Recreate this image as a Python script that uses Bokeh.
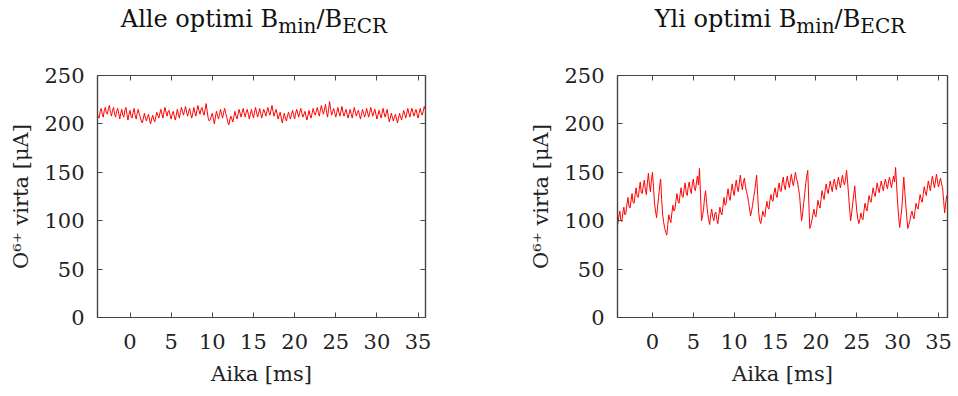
from bokeh.plotting import figure
from bokeh.models import Div, FixedTicker, LinearAxis, Range1d
from bokeh.layouts import row, column
from bokeh.embed import file_html
from bokeh.resources import INLINE

# ---------------- data ----------------
TIME_MS = [
    -4.25, -4.125, -4.0, -3.875, -3.75, -3.625, -3.5, -3.375,
    -3.25, -3.125, -3.0, -2.875, -2.75, -2.625, -2.5, -2.375,
    -2.25, -2.125, -2.0, -1.875, -1.75, -1.625, -1.5, -1.375,
    -1.25, -1.125, -1.0, -0.875, -0.75, -0.625, -0.5, -0.375,
    -0.25, -0.125, 0.0, 0.125, 0.25, 0.375, 0.5, 0.625,
    0.75, 0.875, 1.0, 1.125, 1.25, 1.375, 1.5, 1.625,
    1.75, 1.875, 2.0, 2.125, 2.25, 2.375, 2.5, 2.625,
    2.75, 2.875, 3.0, 3.125, 3.25, 3.375, 3.5, 3.625,
    3.75, 3.875, 4.0, 4.125, 4.25, 4.375, 4.5, 4.625,
    4.75, 4.875, 5.0, 5.125, 5.25, 5.375, 5.5, 5.625,
    5.75, 5.875, 6.0, 6.125, 6.25, 6.375, 6.5, 6.625,
    6.75, 6.875, 7.0, 7.125, 7.25, 7.375, 7.5, 7.625,
    7.75, 7.875, 8.0, 8.125, 8.25, 8.375, 8.5, 8.625,
    8.75, 8.875, 9.0, 9.125, 9.25, 9.375, 9.5, 9.625,
    9.75, 9.875, 10.0, 10.125, 10.25, 10.375, 10.5, 10.625,
    10.75, 10.875, 11.0, 11.125, 11.25, 11.375, 11.5, 11.625,
    11.75, 11.875, 12.0, 12.125, 12.25, 12.375, 12.5, 12.625,
    12.75, 12.875, 13.0, 13.125, 13.25, 13.375, 13.5, 13.625,
    13.75, 13.875, 14.0, 14.125, 14.25, 14.375, 14.5, 14.625,
    14.75, 14.875, 15.0, 15.125, 15.25, 15.375, 15.5, 15.625,
    15.75, 15.875, 16.0, 16.125, 16.25, 16.375, 16.5, 16.625,
    16.75, 16.875, 17.0, 17.125, 17.25, 17.375, 17.5, 17.625,
    17.75, 17.875, 18.0, 18.125, 18.25, 18.375, 18.5, 18.625,
    18.75, 18.875, 19.0, 19.125, 19.25, 19.375, 19.5, 19.625,
    19.75, 19.875, 20.0, 20.125, 20.25, 20.375, 20.5, 20.625,
    20.75, 20.875, 21.0, 21.125, 21.25, 21.375, 21.5, 21.625,
    21.75, 21.875, 22.0, 22.125, 22.25, 22.375, 22.5, 22.625,
    22.75, 22.875, 23.0, 23.125, 23.25, 23.375, 23.5, 23.625,
    23.75, 23.875, 24.0, 24.125, 24.25, 24.375, 24.5, 24.625,
    24.75, 24.875, 25.0, 25.125, 25.25, 25.375, 25.5, 25.625,
    25.75, 25.875, 26.0, 26.125, 26.25, 26.375, 26.5, 26.625,
    26.75, 26.875, 27.0, 27.125, 27.25, 27.375, 27.5, 27.625,
    27.75, 27.875, 28.0, 28.125, 28.25, 28.375, 28.5, 28.625,
    28.75, 28.875, 29.0, 29.125, 29.25, 29.375, 29.5, 29.625,
    29.75, 29.875, 30.0, 30.125, 30.25, 30.375, 30.5, 30.625,
    30.75, 30.875, 31.0, 31.125, 31.25, 31.375, 31.5, 31.625,
    31.75, 31.875, 32.0, 32.125, 32.25, 32.375, 32.5, 32.625,
    32.75, 32.875, 33.0, 33.125, 33.25, 33.375, 33.5, 33.625,
    33.75, 33.875, 34.0, 34.125, 34.25, 34.375, 34.5, 34.625,
    34.75, 34.875, 35.0, 35.125, 35.25, 35.375, 35.5, 35.625,
    35.75, 35.875, 36.0,
]

# O6+ current [uA], below optimum Bmin/BECR
CURRENT_BELOW = [
    203, 209, 212, 207, 206, 213, 216, 210,
    207, 214, 217, 211, 210, 216, 219, 212,
    208, 214, 217, 210, 207, 213, 216, 211,
    205, 211, 215, 209, 207, 214, 217, 210,
    204, 210, 214, 208, 206, 212, 216, 209,
    205, 211, 215, 210, 207, 203, 201, 206,
    211, 206, 203, 207, 210, 204, 200, 205,
    209, 205, 202, 207, 212, 209, 206, 211,
    215, 210, 206, 212, 217, 212, 208, 213,
    214, 209, 205, 210, 213, 208, 204, 209,
    215, 210, 206, 212, 217, 213, 209, 214,
    218, 212, 208, 213, 216, 210, 206, 211,
    217, 212, 208, 214, 219, 214, 210, 215,
    217, 212, 209, 215, 221, 213, 206, 203,
    204, 208, 211, 205, 200, 207, 213, 209,
    205, 210, 215, 210, 206, 212, 216, 211,
    207, 202, 199, 204, 208, 205, 202, 208,
    213, 208, 205, 210, 215, 211, 207, 212,
    216, 211, 207, 212, 215, 210, 205, 210,
    215, 210, 206, 212, 217, 212, 207, 211,
    216, 211, 206, 211, 215, 212, 208, 213,
    217, 212, 209, 214, 219, 213, 208, 212,
    215, 210, 205, 209, 212, 206, 201, 206,
    211, 206, 203, 208, 212, 208, 205, 210,
    214, 209, 205, 211, 215, 211, 207, 212,
    216, 211, 207, 210, 213, 208, 204, 209,
    214, 209, 206, 211, 216, 212, 209, 213,
    217, 212, 208, 214, 219, 214, 210, 215,
    220, 212, 207, 215, 223, 215, 209, 213,
    216, 211, 207, 212, 217, 212, 208, 213,
    218, 212, 208, 212, 215, 210, 206, 211,
    215, 210, 206, 212, 217, 212, 208, 212,
    214, 209, 205, 210, 215, 211, 207, 211,
    216, 211, 207, 212, 217, 212, 208, 212,
    215, 210, 205, 209, 214, 210, 206, 211,
    216, 211, 207, 211, 215, 208, 202, 206,
    211, 207, 203, 207, 210, 205, 201, 206,
    211, 207, 204, 209, 214, 210, 206, 211,
    216, 211, 207, 212, 216, 212, 208, 212,
    215, 210, 206, 211, 216, 212, 209, 213,
    218, 215, 212,
]

# O6+ current [uA], above optimum Bmin/BECR
CURRENT_ABOVE = [
    96, 104, 110, 101, 99, 108, 114, 106,
    108, 117, 124, 115, 113, 121, 128, 119,
    118, 127, 134, 125, 124, 132, 140, 129,
    128, 136, 142, 133, 127, 139, 149, 137,
    130, 143, 150, 135, 118, 110, 103, 115,
    124, 136, 143, 122, 106, 98, 92, 88,
    85, 96, 106, 101, 98, 108, 116, 110,
    112, 121, 128, 120, 118, 127, 134, 125,
    124, 133, 139, 129, 126, 135, 140, 132,
    128, 138, 143, 134, 131, 139, 146, 137,
    154, 128, 100, 105, 112, 124, 131, 118,
    108, 101, 96, 106, 112, 104, 100, 107,
    109, 101, 97, 106, 114, 108, 106, 115,
    124, 116, 117, 126, 133, 125, 121, 130,
    138, 131, 126, 135, 142, 134, 130, 139,
    147, 138, 132, 140, 144, 135, 130, 126,
    120, 112, 105, 110, 116, 124, 130, 139,
    147, 126, 108, 100, 97, 103, 110, 106,
    104, 113, 120, 114, 112, 121, 127, 121,
    120, 129, 134, 127, 124, 133, 139, 131,
    130, 139, 145, 136, 132, 141, 146, 139,
    134, 142, 148, 140, 136, 144, 150, 143,
    140, 133, 126, 112, 100, 108, 118, 128,
    138, 146, 152, 120, 92, 95, 100, 106,
    112, 106, 104, 113, 121, 116, 113, 122,
    131, 126, 122, 131, 138, 132, 128, 135,
    141, 135, 130, 138, 143, 137, 132, 139,
    145, 139, 134, 141, 147, 140, 137, 143,
    152, 140, 126, 112, 100, 108, 118, 127,
    136, 122, 110, 102, 97, 101, 108, 103,
    101, 110, 118, 113, 110, 118, 126, 121,
    119, 127, 134, 128, 125, 132, 139, 133,
    129, 136, 141, 135, 131, 138, 143, 137,
    133, 140, 145, 139, 134, 141, 146, 140,
    155, 136, 118, 104, 93, 102, 112, 128,
    145, 130, 116, 103, 92, 96, 100, 106,
    110, 105, 102, 110, 118, 114, 112, 120,
    127, 122, 119, 127, 135, 130, 126, 133,
    141, 136, 131, 139, 146, 140, 134, 141,
    148, 141, 135, 140, 144, 138, 134, 121,
    108, 118, 126,
]

X_TICKS = [0, 5, 10, 15, 20, 25, 30, 35]
Y_TICKS = [0, 50, 100, 150, 200, 250]

TITLE_BELOW = "Alle optimi B<sub>min</sub>/B<sub>ECR</sub>"
TITLE_ABOVE = "Yli optimi B<sub>min</sub>/B<sub>ECR</sub>"
X_LABEL = "Aika [ms]"
Y_LABEL = "O\u2076\u207a virta [\u03bcA]"

FONT = "DejaVu Serif"
AX_COLOR = "#444444"
TXT_COLOR = "#222222"


def blank_axis(ticks):
    return LinearAxis(
        ticker=FixedTicker(ticks=ticks),
        major_label_overrides={t: "" for t in ticks},
        major_label_standoff=0,
        major_label_text_font_size="1px",
        major_tick_in=5, major_tick_out=0,
        minor_tick_in=0, minor_tick_out=0,
        axis_line_color=AX_COLOR, major_tick_line_color=AX_COLOR,
        axis_line_width=1.2,
    )


def make_panel(values, x_start, x_end, border_left, frame_w, border_right):
    p = figure(
        frame_width=frame_w, frame_height=242,
        min_border_left=border_left, min_border_right=border_right,
        min_border_top=35, min_border_bottom=79,
        x_range=Range1d(x_start, x_end), y_range=Range1d(0, 250),
        output_backend="svg", toolbar_location=None,
        background_fill_color="white", border_fill_color="white",
    )
    p.grid.visible = False
    p.outline_line_color = AX_COLOR
    p.outline_line_width = 1.2

    p.line(TIME_MS, values, line_color="#ff0000", line_width=1.0)

    for ax, ticks in ((p.xaxis[0], X_TICKS), (p.yaxis[0], Y_TICKS)):
        ax.ticker = FixedTicker(ticks=ticks)
        ax.major_tick_in = 5
        ax.major_tick_out = 0
        ax.minor_tick_in = 0
        ax.minor_tick_out = 0
        ax.axis_line_color = AX_COLOR
        ax.axis_line_width = 1.2
        ax.major_tick_line_color = AX_COLOR
        ax.major_label_text_font = FONT
        ax.major_label_text_font_size = "21px"
        ax.major_label_text_color = TXT_COLOR
        ax.axis_label_text_font = FONT
        ax.axis_label_text_font_size = "21px"
        ax.axis_label_text_font_style = "normal"
        ax.axis_label_text_color = TXT_COLOR

    p.xaxis[0].axis_label = X_LABEL
    p.xaxis[0].major_label_standoff = 16
    p.xaxis[0].axis_label_standoff = 10
    p.yaxis[0].axis_label = Y_LABEL
    p.yaxis[0].major_label_standoff = 13
    p.yaxis[0].axis_label_standoff = 8

    p.add_layout(blank_axis(X_TICKS), "above")
    p.add_layout(blank_axis(Y_TICKS), "right")
    return p


def make_title(html, margin_left, width):
    return Div(
        text=html, width=width, height=40, margin=(0, 0, 0, margin_left),
        styles={"font-family": FONT, "font-size": "24px", "text-align": "center",
                "color": "#111111", "padding-top": "2px"},
    )


p_left = make_panel(CURRENT_BELOW, -3.95, 35.9, 97, 328, 54)
p_right = make_panel(CURRENT_ABOVE, -4.28, 36.1, 138, 330, 11)

t_left = make_title(TITLE_BELOW, 29, 450)
t_right = make_title(TITLE_ABOVE, 123, 356)

layout = row(column(t_left, p_left), column(t_right, p_right))

with open("out.html", "w") as f:
    f.write(file_html(layout, INLINE))
